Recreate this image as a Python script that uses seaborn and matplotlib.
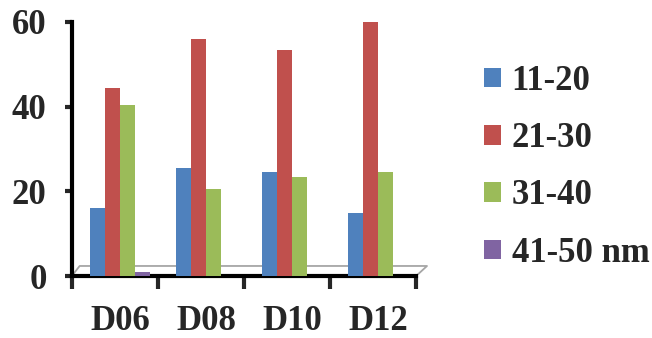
import pandas as pd
import matplotlib.pyplot as plt
import seaborn as sns

# data
samples = ['D06', 'D08', 'D10', 'D12']
sizes = ['11-20', '21-30', '31-40', '41-50 nm']
v_11_20 = [16, 25.5, 24.5, 15]
v_21_30 = [44.5, 56, 53.5, 60]
v_31_40 = [40.5, 20.5, 23.5, 24.5]
v_41_50 = [1, 0, 0, 0]
colors = ['#4F81BD', '#C0504D', '#9BBB59', '#8064A2']

rows = []
for size, vals in zip(sizes, [v_11_20, v_21_30, v_31_40, v_41_50]):
    for s, v in zip(samples, vals):
        rows.append({'sample': s, 'size': size, 'value': v})
df = pd.DataFrame(rows)

sns.set_style('white')
plt.rcParams['font.family'] = ['Liberation Serif', 'DejaVu Serif']
plt.rcParams['font.weight'] = 'bold'

fig = plt.figure(figsize=(6.52, 3.38), dpi=100)
ax = fig.add_axes([0.110, 0.183, 0.528, 0.752])

sns.barplot(data=df, x='sample', y='value', hue='size', palette=colors,
            width=0.7, saturation=1, linewidth=0, ax=ax, zorder=3)

# 3D-ish floor outline like the original
ax.plot([0.0, 0.023, 1.032, 1.0], [0.0, 0.04, 0.04, 0.0], transform=ax.transAxes,
        color='#a6a6a6', lw=1.3, clip_on=False, zorder=1)

# the 3D bars sit slightly right of the category centres
shift = 0.06
ax.set_ylim(0, 60)
ax.set_xlim(-0.5 - shift, 3.5 - shift)
ax.set_yticks([0, 20, 40, 60])
ax.set_xticks([k - 0.5 - shift for k in range(5)], minor=False)
ax.set_xticklabels([])
ax.set_xticks([0, 1, 2, 3], minor=True)
ax.set_xticklabels(samples, minor=True)
ax.set_xlabel('')
ax.set_ylabel('')

for side in ['top', 'right']:
    ax.spines[side].set_visible(False)
for side in ['left', 'bottom']:
    ax.spines[side].set_linewidth(3)
    ax.spines[side].set_color('black')

ax.tick_params(axis='y', which='major', direction='out', length=5, width=3,
               labelsize=25, pad=13, left=True)
ax.tick_params(axis='x', which='major', direction='out', length=9, width=3,
               bottom=True)
ax.tick_params(axis='x', which='minor', length=0, labelsize=25, pad=21)

handles, labels = ax.get_legend_handles_labels()
ax.get_legend().remove()
fig.legend(handles, labels, loc='center left', bbox_to_anchor=(0.742, 0.505),
           frameon=False, prop={'size': 25, 'weight': 'bold'},
           handlelength=0.5, handleheight=0.5, handletextpad=0.3,
           labelspacing=0.7, borderpad=0, borderaxespad=0)

fig.savefig('out.png', dpi=100)
